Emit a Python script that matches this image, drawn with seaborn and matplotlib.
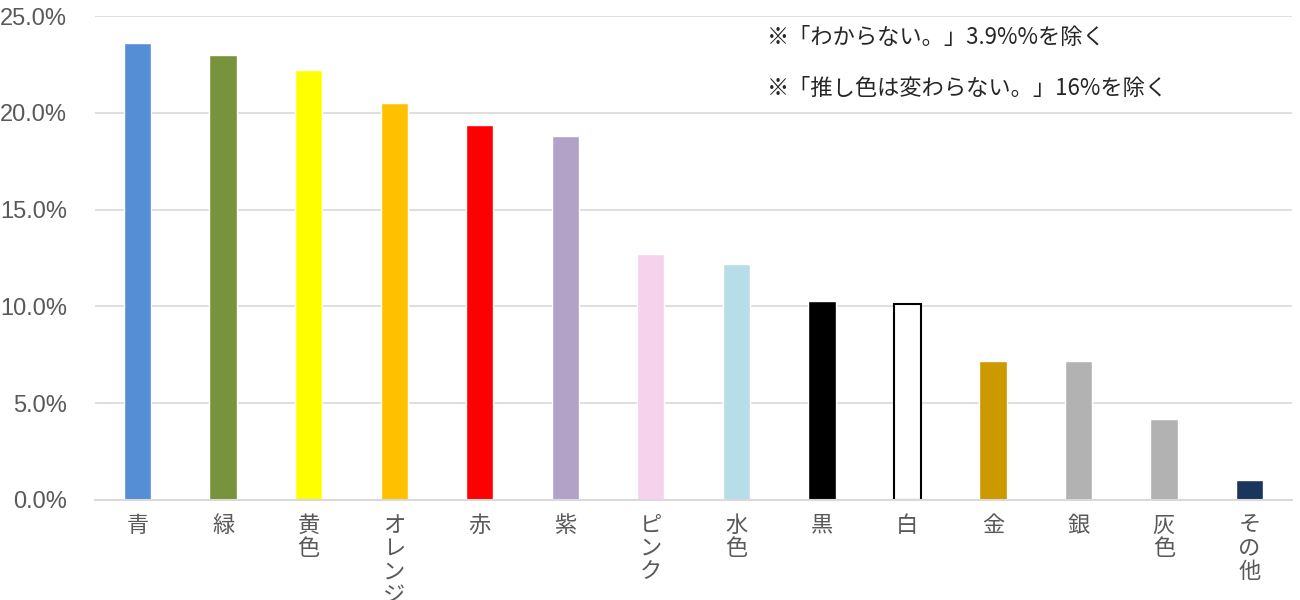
import pandas as pd
import matplotlib.pyplot as plt
import seaborn as sns

# Colour preference shares (%)
categories = ['青', '緑', '黄色', 'オレンジ', '赤', '紫', 'ピンク', '水色', '黒', '白', '金', '銀', '灰色', 'その他']
values = [23.6, 23.0, 22.2, 20.5, 19.4, 18.8, 12.7, 12.2, 10.3, 10.1, 7.2, 7.2, 4.2, 1.0]
bar_colors = ['#558ed5', '#77933c', '#ffff00', '#ffc000', '#ff0000', '#b3a2c7', '#f6d2ec',
              '#b7dde8', '#000000', '#ffffff', '#cc9900', '#b2b2b2', '#b2b2b2', '#1b365d']
notes = ['※「わからない。」3.9%%を除く', '※「推し色は変わらない。」16%を除く']

sns.set_style('white')
plt.rcParams['font.family'] = ['Noto Sans CJK JP', 'DejaVu Sans']

df = pd.DataFrame({'color': categories, 'share': values})

fig = plt.figure(figsize=(13, 6), dpi=100)
ax = fig.add_axes([0.073, 0.167, 0.921, 0.806])

sns.barplot(data=df, x='color', y='share', hue='color', palette=dict(zip(categories, bar_colors)),
            width=0.32, legend=False, ax=ax, saturation=1)

# white bar needs an outline
for patch, name in zip(ax.patches, categories):
    if name == '白':
        patch.set_edgecolor('black')
        patch.set_linewidth(1.5)

ax.set_ylim(0, 25)
ax.set_xlim(-0.5, len(categories) - 0.5)
ax.set_yticks([0, 5, 10, 15, 20, 25])
ax.set_yticklabels([f'{v:.1f}%' for v in [0, 5, 10, 15, 20, 25]], fontsize=17, color='#595959',
                   family=['Liberation Sans'])
ax.yaxis.grid(True, color='#d9d9d9', linewidth=1.2)
ax.set_axisbelow(True)

ax.set_xticks(range(len(categories)))
ax.set_xticklabels(['\n'.join(c) for c in categories], fontsize=16, color='#595959',
                   linespacing=1.02, va='top')
ax.tick_params(axis='both', length=0)
ax.tick_params(axis='x', pad=10)
ax.tick_params(axis='y', pad=20)
ax.set_xlabel('')
ax.set_ylabel('')

for s in ['top', 'right', 'left']:
    ax.spines[s].set_visible(False)
ax.spines['bottom'].set_color('#d9d9d9')
ax.spines['bottom'].set_linewidth(1.5)

fig.text(0.59, 0.937, notes[0], fontsize=16, color='#262626', va='center')
fig.text(0.59, 0.853, notes[1], fontsize=16, color='#262626', va='center')

fig.savefig('out.png', dpi=100)
